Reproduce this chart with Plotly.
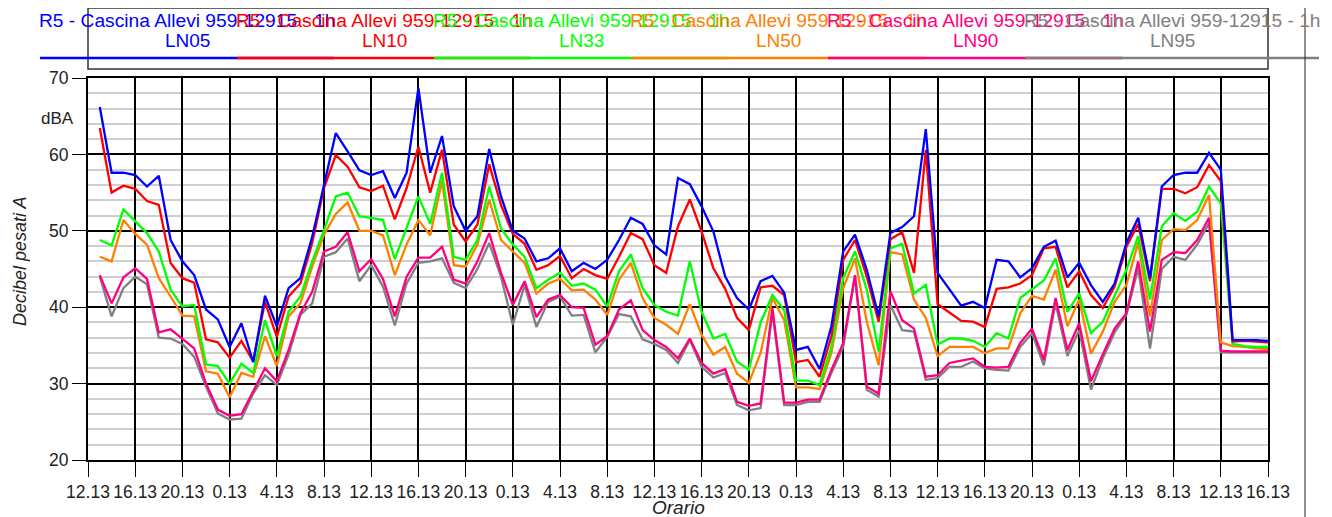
import plotly.graph_objects as go

# hours elapsed since 12.13 of the first day (hourly samples)
hours = list(range(1, 101))

tick_hours = list(range(0, 101, 4))
tick_labels = ["12.13", "16.13", "20.13", "0.13", "4.13", "8.13",
               "12.13", "16.13", "20.13", "0.13", "4.13", "8.13",
               "12.13", "16.13", "20.13", "0.13", "4.13", "8.13",
               "12.13", "16.13", "20.13", "0.13", "4.13", "8.13",
               "12.13", "16.13"]

series_names = ["LN05", "LN10", "LN33", "LN50", "LN90", "LN95"]
station = "R5 - Cascina Allevi 959-12915 - 1h"
colors = ["#0000FF", "#FF0000", "#00FF00", "#FF8000", "#FF0080", "#808080"]

ln05 = [66.2, 57.6, 57.6, 57.3, 55.8, 57.2, 48.8, 46.0, 44.2, 39.7,
        38.4, 34.8, 37.9, 32.8, 41.5, 37.5, 42.5, 43.8, 49.2, 56.2,
        62.8, 60.4, 57.9, 57.3, 57.8, 54.3, 57.6, 68.7, 57.6, 62.4,
        53.2, 50.0, 51.9, 60.7, 54.5, 50.0, 49.0, 46.0, 46.4, 47.7,
        44.7, 45.8, 45.0, 46.2, 48.8, 51.7, 50.9, 48.1, 46.9, 56.9,
        56.1, 53.2, 49.9, 44.0, 41.2, 39.7, 43.4, 44.1, 41.9, 34.4,
        34.8, 31.9, 37.5, 47.3, 49.5, 44.9, 38.8, 49.7, 50.5, 51.9,
        63.3, 44.5, 42.3, 40.2, 40.7, 39.9, 46.2, 46.0, 43.9, 45.1,
        47.9, 48.7, 43.9, 45.8, 42.9, 40.7, 43.1, 48.4, 51.7, 43.8,
        55.8, 57.3, 57.6, 57.6, 60.2, 58.0, 35.7, 35.7, 35.7, 35.6]

ln10 = [63.45, 55.0, 55.9, 55.5, 53.9, 53.4, 45.8, 43.8, 43.2, 35.8,
        35.4, 33.4, 35.6, 32.9, 40.7, 36.1, 41.4, 43.1, 48.4, 55.6,
        59.9, 58.4, 55.7, 55.2, 55.9, 51.5, 55.6, 61.0, 55.0, 60.6,
        50.8, 48.6, 50.8, 58.7, 53.4, 49.6, 48.3, 44.9, 45.5, 46.7,
        43.8, 45.0, 44.2, 43.7, 46.6, 49.7, 48.9, 45.5, 44.5, 50.6,
        54.1, 49.9, 45.1, 42.4, 38.6, 37.0, 42.6, 42.8, 41.6, 32.8,
        33.1, 30.9, 36.2, 46.2, 48.8, 44.0, 38.1, 48.9, 49.8, 44.5,
        60.6, 40.4, 39.3, 38.2, 38.1, 37.4, 42.4, 42.6, 43.1, 44.2,
        47.7, 47.9, 42.6, 44.7, 41.6, 39.9, 42.7, 47.9, 50.9, 43.4,
        55.5, 55.5, 54.9, 55.7, 58.6, 56.5, 35.5, 35.6, 35.5, 35.4]

ln33 = [48.8, 48.1, 52.8, 51.2, 49.7, 47.3, 42.3, 40.1, 40.3, 32.5,
        32.3, 30.0, 32.6, 31.4, 38.3, 33.6, 39.4, 41.4, 46.0, 50.1,
        54.5, 55.0, 51.9, 51.7, 51.4, 46.3, 50.3, 54.5, 50.9, 57.6,
        46.6, 46.2, 48.8, 55.8, 50.3, 48.2, 46.6, 42.5, 43.6, 44.5,
        42.8, 43.1, 42.3, 40.1, 44.7, 46.9, 42.5, 40.3, 39.4, 38.9,
        46.0, 39.4, 35.9, 36.5, 32.9, 31.8, 38.0, 41.6, 39.6, 30.4,
        30.4, 29.8, 34.8, 43.8, 47.3, 42.3, 34.2, 47.7, 48.3, 41.8,
        42.9, 35.1, 35.9, 35.9, 35.6, 34.8, 36.6, 35.9, 41.2, 42.4,
        43.5, 46.4, 39.4, 41.8, 36.6, 38.1, 41.6, 44.9, 49.3, 41.0,
        50.6, 52.3, 51.3, 52.5, 55.8, 53.6, 35.2, 34.9, 34.8, 34.8]

ln50 = [46.6, 46.0, 51.4, 49.6, 48.2, 43.8, 41.4, 38.9, 38.8, 31.6,
        31.3, 28.2, 31.4, 30.9, 36.2, 32.3, 38.8, 40.5, 45.3, 49.5,
        52.2, 53.7, 50.0, 50.0, 49.4, 44.2, 48.2, 51.4, 49.4, 56.5,
        45.5, 45.3, 48.2, 54.1, 48.8, 47.3, 45.8, 41.8, 43.1, 43.7,
        42.2, 42.3, 41.0, 39.0, 43.6, 45.8, 41.2, 38.6, 37.7, 36.5,
        40.4, 36.4, 33.8, 34.8, 31.3, 30.1, 34.0, 41.2, 38.3, 29.5,
        29.5, 29.3, 34.0, 42.5, 46.4, 38.1, 32.4, 47.2, 46.9, 41.0,
        38.6, 33.6, 34.8, 34.8, 34.8, 34.0, 34.6, 34.6, 39.2, 41.5,
        41.0, 44.9, 37.5, 41.0, 33.9, 36.8, 40.7, 42.9, 48.5, 38.8,
        48.8, 50.2, 50.1, 51.4, 54.7, 35.4, 34.9, 34.8, 34.6, 34.5]

ln90 = [44.2, 40.5, 43.9, 45.1, 43.7, 36.7, 37.1, 35.9, 34.6, 30.0,
        26.6, 25.8, 26.0, 29.0, 32.0, 30.3, 34.4, 39.2, 42.0, 47.3,
        47.9, 49.8, 44.7, 46.3, 43.7, 38.8, 44.0, 46.5, 46.5, 47.9,
        43.6, 43.1, 46.0, 49.7, 44.5, 40.3, 43.4, 38.7, 41.0, 41.6,
        40.0, 39.9, 35.1, 36.2, 39.7, 40.9, 37.0, 35.7, 34.8, 33.3,
        35.9, 32.7, 31.3, 31.9, 27.6, 27.1, 27.4, 39.9, 27.5, 27.5,
        27.9, 27.9, 31.8, 35.3, 44.2, 29.6, 28.7, 42.1, 38.3, 37.2,
        30.9, 31.1, 32.7, 33.0, 33.3, 32.2, 32.1, 32.2, 35.3, 37.2,
        33.1, 41.2, 34.4, 37.9, 30.3, 33.8, 37.2, 39.2, 46.0, 36.8,
        46.2, 47.2, 47.1, 48.8, 51.7, 34.3, 34.2, 34.2, 34.2, 34.2]

ln95 = [44.0, 38.8, 42.5, 44.0, 43.0, 36.0, 35.9, 35.2, 33.5, 29.6,
        26.1, 25.3, 25.4, 28.7, 31.1, 29.8, 33.8, 39.0, 40.5, 46.6,
        47.2, 49.0, 43.4, 45.5, 42.7, 37.6, 43.1, 45.8, 46.0, 46.4,
        43.2, 42.5, 45.0, 48.4, 44.0, 37.7, 42.9, 37.4, 40.7, 41.4,
        38.9, 39.0, 34.1, 36.1, 39.1, 38.8, 35.8, 35.2, 34.4, 32.7,
        35.7, 32.2, 30.8, 31.4, 27.2, 26.5, 26.8, 39.4, 27.2, 27.2,
        27.6, 27.6, 31.4, 34.8, 44.0, 29.2, 28.3, 40.3, 37.0, 36.8,
        30.5, 30.7, 32.2, 32.2, 32.9, 32.0, 31.8, 31.7, 34.8, 36.6,
        32.4, 40.5, 33.6, 37.0, 29.2, 33.3, 36.7, 39.0, 45.1, 34.6,
        45.0, 46.6, 46.2, 48.2, 51.0, 34.1, 34.1, 34.1, 34.1, 34.1]

all_series = [ln05, ln10, ln33, ln50, ln90, ln95]

FONT = "Arial, Liberation Sans, sans-serif"

fig = go.Figure()
# draw from LN95 up to LN05 so the upper percentiles sit on top
for name, vals, col in reversed(list(zip(series_names, all_series, colors))):
    fig.add_trace(go.Scatter(x=hours, y=vals, mode="lines", name=name,
                             line=dict(color=col, width=2.3),
                             hoverinfo="skip", showlegend=False))

# The page body adds an 8px offset; work in page pixels, then convert.
OFF = 8
FIG_W, FIG_H = 1332 - OFF, 517 - OFF
L, R, T, B = 88, 1268, 78, 460          # plot area in page pixels
W = R - L
H = B - T
def px(x):
    return (x - L) / W
def py(y):
    return (B - y) / H

annotations = []
shapes = []

# custom legend box
shapes.append(dict(type="rect", xref="paper", yref="paper",
                   x0=px(88), x1=px(1268), y0=py(69), y1=py(8),
                   line=dict(color="#333333", width=1.5), fillcolor="rgba(0,0,0,0)",
                   layer="above"))
for k, (name, col) in enumerate(zip(series_names, colors)):
    cx = 187 + 197 * k
    annotations.append(dict(text=station, x=px(cx), y=py(21), xref="paper", yref="paper",
                            showarrow=False, xanchor="center", yanchor="middle",
                            font=dict(family=FONT, size=19.2, color=col)))
    annotations.append(dict(text=name, x=px(cx), y=py(41), xref="paper", yref="paper",
                            showarrow=False, xanchor="center", yanchor="middle",
                            font=dict(family=FONT, size=19, color=col)))
    shapes.append(dict(type="line", xref="paper", yref="paper",
                       x0=px(cx - 147), x1=px(cx + 147), y0=py(58), y1=py(58),
                       line=dict(color=col, width=2.5), layer="above"))

# right vertical separator line
shapes.append(dict(type="line", xref="paper", yref="paper",
                   x0=px(1305), x1=px(1305), y0=py(517), y1=py(0),
                   line=dict(color="#222222", width=1), layer="above"))

# unit label and axis titles
annotations.append(dict(text="dBA", x=px(57), y=py(118), xref="paper", yref="paper",
                        showarrow=False, xanchor="center", yanchor="middle",
                        font=dict(family=FONT, size=17, color="#222222")))
annotations.append(dict(text="<i>Orario</i>", x=px(678), y=py(507), xref="paper", yref="paper",
                        showarrow=False, xanchor="center", yanchor="middle",
                        font=dict(family=FONT, size=19, color="#222222")))
annotations.append(dict(text="<i>Decibel pesati A</i>", x=px(20), y=py(262), xref="paper",
                        yref="paper", showarrow=False, textangle=-90, borderpad=0,
                        xanchor="center", yanchor="middle",
                        font=dict(family=FONT, size=18, color="#222222")))

fig.update_layout(
    width=FIG_W, height=FIG_H, autosize=False,
    margin=dict(l=L - OFF, r=FIG_W - (R - OFF), t=T - OFF, b=FIG_H - (B - OFF), pad=0),
    paper_bgcolor="white", plot_bgcolor="white",
    font=dict(family=FONT, color="#222222"),
    annotations=annotations, shapes=shapes,
    xaxis=dict(range=[0, 100], tickmode="array", tickvals=tick_hours, ticktext=tick_labels,
               showgrid=True, gridcolor="#000000", gridwidth=2, zeroline=False,
               ticks="outside", ticklen=15, tickwidth=1.2, tickcolor="#000000",
               showline=True, linecolor="#000000", linewidth=2, mirror=True,
               tickfont=dict(family=FONT, size=17.5, color="#222222")),
    yaxis=dict(range=[20, 70], tickmode="linear", tick0=20, dtick=10,
               showgrid=True, gridcolor="#000000", gridwidth=2, zeroline=False,
               ticks="outside", ticklen=14, tickwidth=1.2, tickcolor="#000000",
               showline=True, linecolor="#000000", linewidth=2, mirror=True,
               minor=dict(dtick=2, showgrid=True, gridcolor="#cfcfcf", gridwidth=2),
               tickfont=dict(family=FONT, size=17.5, color="#222222")),
)

fig.write_html("out.html")
